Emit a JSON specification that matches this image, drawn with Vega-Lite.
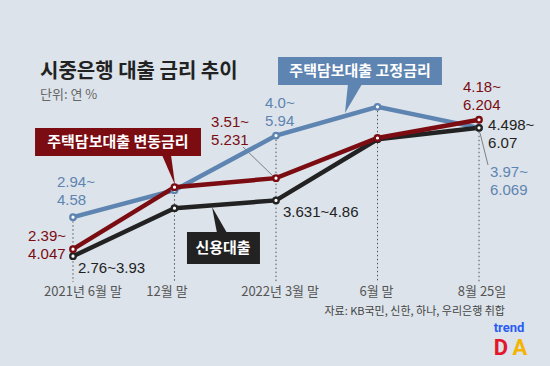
{
  "$schema": "https://vega.github.io/schema/vega-lite/v6.json",
  "width": 550,
  "height": 366,
  "autosize": {"type": "none"},
  "padding": 0,
  "background": "#dce3ea",
  "config": {"view": {"stroke": null}, "text": {"font": "Noto Sans CJK KR"}},
  "datasets": {
    "rates": [
      {"series": "고정금리", "period": "2021년 6월 말", "i": 0, "v": 4.58},
      {"series": "고정금리", "period": "12월 말", "i": 1, "v": 5.03},
      {"series": "고정금리", "period": "2022년 3월 말", "i": 2, "v": 5.94},
      {"series": "고정금리", "period": "6월 말", "i": 3, "v": 6.42},
      {"series": "고정금리", "period": "8월 25일", "i": 4, "v": 6.069},
      {"series": "신용대출", "period": "2021년 6월 말", "i": 0, "v": 3.93},
      {"series": "신용대출", "period": "12월 말", "i": 1, "v": 4.73},
      {"series": "신용대출", "period": "2022년 3월 말", "i": 2, "v": 4.86},
      {"series": "신용대출", "period": "6월 말", "i": 3, "v": 5.88},
      {"series": "신용대출", "period": "8월 25일", "i": 4, "v": 6.07},
      {"series": "변동금리", "period": "2021년 6월 말", "i": 0, "v": 4.047},
      {"series": "변동금리", "period": "12월 말", "i": 1, "v": 5.08},
      {"series": "변동금리", "period": "2022년 3월 말", "i": 2, "v": 5.231},
      {"series": "변동금리", "period": "6월 말", "i": 3, "v": 5.9},
      {"series": "변동금리", "period": "8월 25일", "i": 4, "v": 6.204}
    ],
    "labels": [
      {"series": "고정금리", "text": "2.94~\n4.58", "i": -0.158, "v": 5.167},
      {"series": "고정금리", "text": "4.0~\n5.94", "i": 1.892, "v": 6.483},
      {"series": "고정금리", "text": "3.97~\n6.069", "i": 4.108, "v": 5.333},
      {"series": "변동금리", "text": "2.39~\n4.047", "i": -0.443, "v": 4.267},
      {"series": "변동금리", "text": "3.51~\n5.231", "i": 1.36, "v": 6.167},
      {"series": "변동금리", "text": "4.18~\n6.204", "i": 3.842, "v": 6.75},
      {"series": "신용대출", "text": "2.76~3.93", "i": 0.049, "v": 3.733},
      {"series": "신용대출", "text": "3.631~4.86", "i": 2.069, "v": 4.667},
      {"series": "신용대출", "text": "4.498~\n6.07", "i": 4.089, "v": 6.117}
    ],
    "leaders": [
      {"i": 1.675, "v": 5.75, "i2": 1.97, "v2": 5.267},
      {"i": 4.01, "v": 5.983, "i2": 4.089, "v2": 5.45}
    ],
    "boxes": [
      {"series": "고정금리", "i": 2.02, "i2": 3.635, "v": 7.25, "v2": 6.783},
      {"series": "변동금리", "i": -0.374, "i2": 1.261, "v": 6.067, "v2": 5.6},
      {"series": "신용대출", "i": 1.123, "i2": 1.842, "v": 4.333, "v2": 3.8}
    ],
    "callouts": [
      {"series": "고정금리", "text": "주택담보대출 고정금리", "i": 2.828, "v": 7.017},
      {"series": "변동금리", "text": "주택담보대출 변동금리", "i": 0.443, "v": 5.833},
      {"series": "신용대출", "text": "신용대출", "i": 1.478, "v": 4.067}
    ],
    "pointers": [
      {"series": "고정금리", "i": 2.749, "v": 6.55},
      {"series": "변동금리", "i": 0.936, "v": 5.367},
      {"series": "신용대출", "i": 1.429, "v": 4.533}
    ],
    "periods": [
      {"period": "2021년 6월 말", "i": 0.0985, "v": 3.333},
      {"period": "12월 말", "i": 0.926, "v": 3.333},
      {"period": "2022년 3월 말", "i": 2.04, "v": 3.333},
      {"period": "6월 말", "i": 2.99, "v": 3.333},
      {"period": "8월 25일", "i": 4.03, "v": 3.333}
    ]
  },
  "encoding": {
    "x": {"field": "i", "type": "quantitative", "scale": {"domain": [-0.7192, 4.6995], "nice": false, "zero": false}, "axis": null},
    "y": {"field": "v", "type": "quantitative", "scale": {"domain": [2.1, 8.2], "nice": false, "zero": false}, "axis": null}
  },
  "layer": [
    {
      "data": {"values": [{}]},
      "mark": {"type": "rect", "fill": {"gradient": "linear", "x1": 0, "y1": 0, "x2": 0, "y2": 1, "stops": [{"offset": 0, "color": "#dce3ea"}, {"offset": 0.5, "color": "#e9eef3"}, {"offset": 1, "color": "#fafbfd"}]}},
      "encoding": {
        "x": {"datum": 0, "type": "quantitative", "scale": {"domain": [-0.7192, 4.6995], "nice": false, "zero": false}, "axis": null},
        "x2": {"datum": 4},
        "y": {"datum": 7.6, "type": "quantitative", "scale": {"domain": [2.1, 8.2], "nice": false, "zero": false}, "axis": null},
        "y2": {"datum": 3.5}
      }
    },
    {
      "data": {"name": "rates"},
      "mark": {"type": "rule", "color": "#555555", "strokeDash": [1.5, 2.5], "strokeWidth": 1},
      "encoding": {
        "y": {"aggregate": "max", "field": "v", "type": "quantitative", "scale": {"domain": [2.1, 8.2], "nice": false, "zero": false}, "axis": null},
        "y2": {"datum": 3.5}
      }
    },
    {
      "data": {"name": "leaders"},
      "mark": {"type": "rule", "color": "#666666", "strokeWidth": 0.8},
      "encoding": {"x2": {"field": "i2"}, "y2": {"field": "v2"}}
    },
    {
      "data": {"name": "rates"},
      "transform": [{"filter": "datum.series === '고정금리'"}],
      "mark": {"type": "line", "strokeWidth": 4.5},
      "encoding": {"color": {"field": "series", "type": "nominal", "scale": {"domain": ["고정금리", "변동금리", "신용대출"], "range": ["#5e84b1", "#7b0c12", "#222222"]}, "legend": null}}
    },
    {
      "data": {"name": "rates"},
      "transform": [{"filter": "datum.series === '신용대출'"}],
      "mark": {"type": "line", "strokeWidth": 4.5},
      "encoding": {"color": {"field": "series", "type": "nominal", "scale": {"domain": ["고정금리", "변동금리", "신용대출"], "range": ["#5e84b1", "#7b0c12", "#222222"]}, "legend": null}}
    },
    {
      "data": {"name": "rates"},
      "transform": [{"filter": "datum.series === '변동금리'"}],
      "mark": {"type": "line", "strokeWidth": 4.5},
      "encoding": {"color": {"field": "series", "type": "nominal", "scale": {"domain": ["고정금리", "변동금리", "신용대출"], "range": ["#5e84b1", "#7b0c12", "#222222"]}, "legend": null}}
    },
    {
      "data": {"name": "rates"},
      "mark": {"type": "point", "filled": false, "fill": "white", "fillOpacity": 1, "opacity": 1, "size": 30, "strokeWidth": 2.3},
      "encoding": {"stroke": {"field": "series", "type": "nominal", "scale": {"domain": ["고정금리", "변동금리", "신용대출"], "range": ["#5e84b1", "#7b0c12", "#222222"]}, "legend": null}}
    },
    {
      "data": {"name": "labels"},
      "mark": {"type": "text", "align": "left", "baseline": "middle", "fontSize": 15, "lineHeight": 18, "lineBreak": "\n", "font": "Liberation Sans"},
      "encoding": {
        "text": {"field": "text"},
        "color": {"field": "series", "type": "nominal", "scale": {"domain": ["고정금리", "변동금리", "신용대출"], "range": ["#5e84b1", "#7b0c12", "#222222"]}, "legend": null}
      }
    },
    {
      "data": {"name": "boxes"},
      "mark": {"type": "rect"},
      "encoding": {
        "x2": {"field": "i2"},
        "y2": {"field": "v2"},
        "color": {"field": "series", "type": "nominal", "scale": {"domain": ["고정금리", "변동금리", "신용대출"], "range": ["#5e84b1", "#7b0c12", "#222222"]}, "legend": null}
      }
    },
    {
      "data": {"name": "pointers"},
      "mark": {"type": "point", "filled": true, "opacity": 1, "size": 900, "strokeWidth": 0},
      "encoding": {
        "shape": {"field": "series", "type": "nominal", "scale": {"domain": ["고정금리", "변동금리", "신용대출"], "range": ["M-0.27,-1L0.67,-1L-0.47,0.93Z", "M-0.4,-1L0.2,-1L0.47,1Z", "M-0.4,-0.87L0.6,0.87L-0.07,0.87Z"]}, "legend": null},
        "color": {"field": "series", "type": "nominal", "scale": {"domain": ["고정금리", "변동금리", "신용대출"], "range": ["#5e84b1", "#7b0c12", "#222222"]}, "legend": null}
      }
    },
    {
      "data": {"name": "callouts"},
      "mark": {"type": "text", "color": "white", "fontWeight": "bold", "fontSize": 15, "align": "center", "baseline": "middle"},
      "encoding": {"text": {"field": "text"}}
    },
    {
      "data": {"name": "periods"},
      "mark": {"type": "text", "color": "#555555", "fontSize": 13, "align": "center", "baseline": "middle"},
      "encoding": {"text": {"field": "period"}}
    },
    {
      "data": {"values": [{"text": "시중은행 대출 금리 추이", "i": -0.325, "v": 7.0}]},
      "mark": {"type": "text", "align": "left", "baseline": "middle", "fontSize": 20, "fontWeight": "bold", "color": "#222222"},
      "encoding": {"text": {"field": "text"}}
    },
    {
      "data": {"values": [{"text": "단위: 연 %", "i": -0.325, "v": 6.617}]},
      "mark": {"type": "text", "align": "left", "baseline": "middle", "fontSize": 13, "color": "#666666"},
      "encoding": {"text": {"field": "text"}}
    },
    {
      "data": {"values": [{"text": "자료: KB국민, 신한, 하나, 우리은행 취합", "i": 4.256, "v": 3.0}]},
      "mark": {"type": "text", "align": "right", "baseline": "middle", "fontSize": 11, "color": "#444444"},
      "encoding": {"text": {"field": "text"}}
    },
    {
      "data": {"values": [{"text": "trend", "i": 4.296, "v": 2.733}]},
      "mark": {"type": "text", "align": "center", "baseline": "middle", "fontSize": 13, "fontWeight": "bold", "color": "#2a5cf5", "font": "Roboto"},
      "encoding": {"text": {"field": "text"}}
    },
    {
      "data": {"values": [{"text": "D", "i": 4.217, "v": 2.4}]},
      "mark": {"type": "text", "align": "center", "baseline": "middle", "fontSize": 22, "fontWeight": "bold", "color": "#e3172b", "font": "Roboto"},
      "encoding": {"text": {"field": "text"}}
    },
    {
      "data": {"values": [{"text": "A", "i": 4.404, "v": 2.4}]},
      "mark": {"type": "text", "align": "center", "baseline": "middle", "fontSize": 22, "fontWeight": "bold", "color": "#f4b400", "font": "Roboto"},
      "encoding": {"text": {"field": "text"}}
    }
  ]
}
